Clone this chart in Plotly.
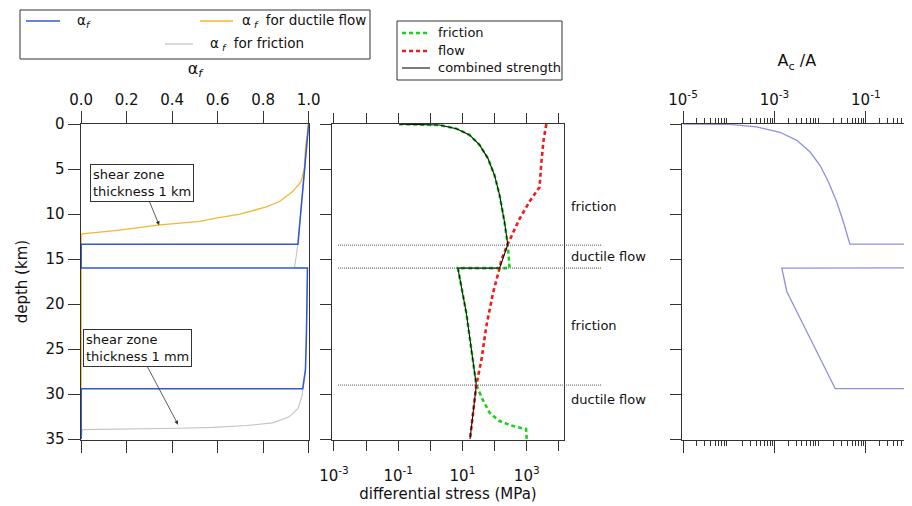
import plotly.graph_objects as go

# ---------------- data ----------------
# left panel: alpha_f vs depth
blue_depth = [0, 13.34, 13.34, 16.0, 16.0, 20, 24, 27.3, 28.5, 29.4, 29.4, 35]
blue_alpha = [1.0, 0.953, 0.0, 0.0, 0.995, 0.993, 0.990, 0.986, 0.981, 0.974, 0.0, 0.0]

orange_depth = [0, 2.7, 4.9, 6.4, 7.5, 8.6, 9.2, 10.0, 10.5, 10.8, 11.2, 11.8, 12.2, 12.3, 35]
orange_alpha = [1.0, 0.986, 0.981, 0.967, 0.930, 0.872, 0.814, 0.698, 0.581, 0.522, 0.347, 0.158, 0.005, 0.0, 0.0]

gray_depth = [0, 13.34, 15.97, 16.0, 20, 24, 27.3, 28.5, 29.4, 30.3, 31.6, 32.5, 33.2, 33.5, 33.7, 33.8, 33.95, 35]
gray_alpha = [1.0, 0.953, 0.938, 0.995, 0.993, 0.990, 0.986, 0.981, 0.974, 0.970, 0.953, 0.916, 0.843, 0.727, 0.581, 0.435, 0.005, 0.0]

# middle panel: differential stress (MPa) vs depth
fric_depth = [0, 0.1, 0.5, 1.2, 2.3, 3.8, 5.7, 7.9, 10.9, 13.4, 16.0, 16.0, 21, 26.2, 29.0, 30.7, 32.1, 33.0, 33.5, 33.9, 35]
fric_stress = [0.107, 1.95, 6.5, 16.6, 34, 62, 100, 143, 204, 257, 293, 7.2, 13.2, 21.4, 27, 43.6, 70.8, 143, 331, 955, 1000]

flow_depth = [0, 1.9, 4.5, 7.0, 8.6, 10.5, 13.4, 15.1, 16.0, 18.8, 22.5, 26.2, 29.0, 34.7, 35]
flow_stress = [4070, 3310, 2820, 2510, 1230, 603, 251, 162, 143, 89, 55, 39, 27, 17.6, 17.2]

comb_depth = [0, 0.1, 0.5, 1.2, 2.3, 3.8, 5.7, 7.9, 10.9, 13.4, 16.0, 16.0, 21, 26.2, 29.0, 34.7, 35]
comb_stress = [0.107, 1.95, 6.5, 16.6, 34, 62, 100, 143, 204, 257, 143, 7.2, 13.2, 21.4, 27, 17.6, 17.2]

transition_depths = [13.45, 16.0, 29.0]
regime_labels = ["friction", "ductile flow", "friction", "ductile flow"]
regime_label_depths = [9.1, 14.7, 22.4, 30.6]

# right panel: Ac/A vs depth
ac_depth = [0, 0.03, 0.3, 0.9, 1.8, 3.1, 4.6, 6.4, 8.6, 10.9, 13.34, 13.34, 15.97, 16.0, 18.6, 29.4, 29.4, 35]
ac_ratio = [1.02e-5, 1.07e-4, 4.07e-4, 1.32e-3, 3.09e-3, 6.03e-3, 0.0100, 0.0151, 0.0229, 0.0324, 0.0447,
            1.0, 1.0, 1.45e-3, 1.86e-3, 0.0214, 1.0, 1.0]

alpha_ticks = [0, 0.2, 0.4, 0.6, 0.8, 1.0]
alpha_ticktext = ["0.0", "0.2", "0.4", "0.6", "0.8", "1.0"]
depth_ticks = [0, 5, 10, 15, 20, 25, 30, 35]
stress_label_ticks = [1e-3, 1e-1, 1e1, 1e3]
stress_label_text = ["10<sup>-3</sup>", "10<sup>-1</sup>", "10<sup>1</sup>", "10<sup>3</sup>"]
stress_other_ticks = [1e-2, 1e0, 1e2, 1e4]
ac_label_ticks = [1e-5, 1e-3, 1e-1]
ac_label_text = ["10<sup>-5</sup>", "10<sup>-3</sup>", "10<sup>-1</sup>"]
ac_other_ticks = [1e-4, 1e-2, 1e0]
ac_minor = [k * 10.0 ** e for e in range(-5, 0) for k in range(2, 10)]

# ---------------- styling ----------------
# the page body has an 8px margin, so the figure is sized to fill the rest of the 912x506 window
OFF = 8
W, H = 912 - OFF, 506 - OFF
FONT = "DejaVu Sans"
AX = "#333333"
BLUE = "#2f58d8"
ORANGE = "#f2b632"
GRAY = "#c4c4c4"
GREEN = "#1fd01f"
RED = "#ee1c1c"
LAV = "#8f8fe0"


def px(x):
    return (x - OFF) / W


def py(y):
    return 1 - (y - OFF) / H


ydom = [py(439.5), py(123.7)]

fig = go.Figure()

# left panel
fig.add_trace(go.Scatter(x=gray_alpha, y=gray_depth, mode="lines", line=dict(color=GRAY, width=1.1),
                         xaxis="x", yaxis="y", showlegend=False))
fig.add_trace(go.Scatter(x=orange_alpha, y=orange_depth, mode="lines", line=dict(color=ORANGE, width=1.3),
                         xaxis="x", yaxis="y", showlegend=False))
fig.add_trace(go.Scatter(x=blue_alpha, y=blue_depth, mode="lines", line=dict(color=BLUE, width=1.5),
                         xaxis="x", yaxis="y", showlegend=False))

# middle panel
fig.add_trace(go.Scatter(x=fric_stress, y=fric_depth, mode="lines",
                         line=dict(color=GREEN, width=2.6, dash="4px,3px"),
                         xaxis="x2", yaxis="y2", showlegend=False))
fig.add_trace(go.Scatter(x=flow_stress, y=flow_depth, mode="lines",
                         line=dict(color=RED, width=2.6, dash="4px,3px"),
                         xaxis="x2", yaxis="y2", showlegend=False))
fig.add_trace(go.Scatter(x=comb_stress, y=comb_depth, mode="lines", line=dict(color="#111111", width=1.1),
                         xaxis="x2", yaxis="y2", showlegend=False))

# right panel
fig.add_trace(go.Scatter(x=ac_ratio, y=ac_depth, mode="lines", line=dict(color=LAV, width=1.3),
                         xaxis="x3", yaxis="y3", showlegend=False))

common_axis = dict(showgrid=False, zeroline=False, showline=True, linecolor=AX, linewidth=1,
                   ticks="outside", tickcolor=AX, tickwidth=1, automargin=False,
                   tickfont=dict(family=FONT, size=15, color="#111111"))
yrange = [35.05, -0.05]

fig.update_layout(
    template="none",
    width=W, height=H, margin=dict(l=0, r=0, t=0, b=0, autoexpand=False),
    paper_bgcolor="white", plot_bgcolor="white",
    font=dict(family=FONT, color="#111111"),
    xaxis=dict(common_axis, domain=[px(80.5), px(309.3)], range=[-0.003, 1.003], side="top", anchor="y",
               tickmode="array", tickvals=alpha_ticks, ticktext=alpha_ticktext, ticklen=12, mirror="ticks",
               title=dict(text="α<sub><i>f</i></sub>", font=dict(family=FONT, size=16), standoff=12)),
    yaxis=dict(common_axis, domain=ydom, range=yrange, anchor="x", tickmode="array", tickvals=depth_ticks,
               ticklen=12, mirror=True,
               title=dict(text="depth (km)", font=dict(family=FONT, size=15), standoff=14)),
    xaxis2=dict(common_axis, domain=[px(332), px(564)], range=[-3.06, 4.16], type="log", side="bottom",
                anchor="y2", tickmode="array", tickvals=stress_label_ticks, ticktext=stress_label_text,
                ticklen=10, mirror="ticks", ticklabelstandoff=12,
                minor=dict(tickmode="array", tickvals=stress_other_ticks, ticks="outside", ticklen=10,
                           tickcolor=AX, tickwidth=1, showgrid=False),
                title=dict(text="differential stress (MPa)", font=dict(family=FONT, size=15), standoff=2)),
    yaxis2=dict(common_axis, domain=ydom, range=yrange, anchor="x2", tickmode="array", tickvals=depth_ticks,
                ticklen=11, mirror=True, showticklabels=False),
    xaxis3=dict(common_axis, domain=[px(681.7), 1.0], range=[-5.03, 0.01], type="log", side="top",
                anchor="y3", tickmode="array", tickvals=ac_label_ticks, ticktext=ac_label_text, ticklen=12,
                mirror="ticks",
                minor=dict(tickmode="array", tickvals=ac_minor, ticks="outside", ticklen=5, tickcolor=AX,
                           tickwidth=1, showgrid=False),
                title=dict(text="A<sub>c</sub> /A", font=dict(family=FONT, size=16), standoff=17)),
    xaxis4=dict(showgrid=False, zeroline=False, showline=False, automargin=False, type="log",
                range=[-5.03, 0.01], overlaying="x3", side="top", anchor="y3", tickmode="array",
                tickvals=ac_other_ticks, ticks="outside", ticklen=12, tickcolor=AX, tickwidth=1,
                showticklabels=False, mirror="ticks"),
    yaxis3=dict(common_axis, domain=ydom, range=yrange, anchor="x3", tickmode="array", tickvals=depth_ticks,
                ticklen=11, mirror=False, showticklabels=False),
)

shapes = []
annotations = []

# transition dotted lines in middle panel
for d in transition_depths:
    shapes.append(dict(type="line", xref="paper", yref="y2", x0=px(338), x1=px(602), y0=d, y1=d,
                       line=dict(color="#555555", width=1, dash="1px,1px")))
for lab, d in zip(regime_labels, regime_label_depths):
    annotations.append(dict(text=lab, xref="paper", yref="y2", x=px(569), y=d, xanchor="left",
                            yanchor="middle", showarrow=False, font=dict(family=FONT, size=13)))

# shear zone annotations
annotations.append(dict(text="shear zone<br>thickness 1 km", xref="x", yref="y", x=0.343, y=11.23,
                        ax=-17.5, ay=-42.5, showarrow=True, arrowhead=2, arrowsize=1, arrowwidth=0.8,
                        arrowcolor="#333333", align="left", bgcolor="white", bordercolor="#333333",
                        borderwidth=1, borderpad=2, font=dict(family=FONT, size=13)))
annotations.append(dict(text="shear zone<br>thickness 1 mm", xref="x", yref="y", x=0.426, y=33.4,
                        ax=-40.5, ay=-76.5, showarrow=True, arrowhead=2, arrowsize=1, arrowwidth=0.8,
                        arrowcolor="#333333", align="left", bgcolor="white", bordercolor="#333333",
                        borderwidth=1, borderpad=2, font=dict(family=FONT, size=13)))

# legend 1 (alpha_f)
shapes.append(dict(type="rect", xref="paper", yref="paper", x0=px(20), x1=px(370), y0=py(59), y1=py(10),
                   line=dict(color=AX, width=1), fillcolor="white", layer="below"))
leg1 = [(26, 60, 21, BLUE, 1.5, 75, "α<sub><i>f</i></sub>"),
        (200, 233, 21, ORANGE, 1.3, 240, "α<sub> <i>f</i></sub>  for ductile flow"),
        (165, 193, 44, GRAY, 1.3, 208, "α<sub> <i>f</i></sub>  for friction")]
for x0, x1, yy, col, w, tx, txt in leg1:
    shapes.append(dict(type="line", xref="paper", yref="paper", x0=px(x0), x1=px(x1), y0=py(yy), y1=py(yy),
                       line=dict(color=col, width=w)))
    annotations.append(dict(text=txt, xref="paper", yref="paper", x=px(tx), y=py(yy), xanchor="left",
                            yanchor="middle", showarrow=False, font=dict(family=FONT, size=13.5)))

# legend 2 (strength)
shapes.append(dict(type="rect", xref="paper", yref="paper", x0=px(397), x1=px(562), y0=py(80), y1=py(21),
                   line=dict(color=AX, width=1), fillcolor="white", layer="below"))
leg2 = [(33, GREEN, 2.6, "4px,3px", "friction"),
        (51, RED, 2.6, "4px,3px", "flow"),
        (68, "#111111", 1.1, "solid", "combined strength")]
for yy, col, w, dash, txt in leg2:
    shapes.append(dict(type="line", xref="paper", yref="paper", x0=px(402), x1=px(430), y0=py(yy), y1=py(yy),
                       line=dict(color=col, width=w, dash=dash)))
    annotations.append(dict(text=txt, xref="paper", yref="paper", x=px(436), y=py(yy), xanchor="left",
                            yanchor="middle", showarrow=False, font=dict(family=FONT, size=13)))

fig.update_layout(shapes=shapes, annotations=annotations)

fig.write_html("out.html")
